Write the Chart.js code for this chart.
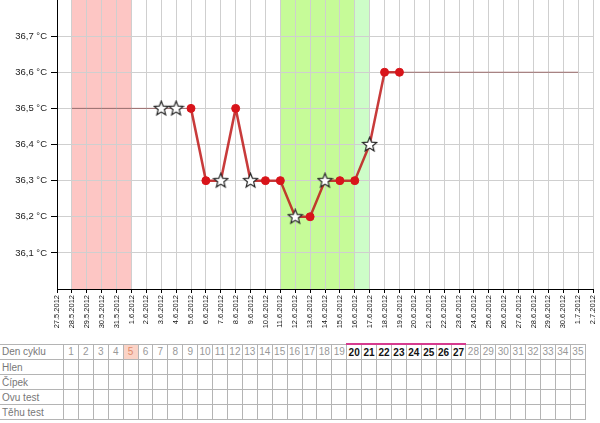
<!DOCTYPE html>
<html>
<head>
<meta charset="utf-8">
<script src="https://cdn.jsdelivr.net/npm/chart.js@4/dist/chart.umd.min.js"></script>
<style>
  html, body { margin: 0; padding: 0; background: #fff; }
  #obal { position: relative; width: 600px; height: 341px; }
  #tabulka {
    position: absolute; left: 0; top: 343px;
    border-collapse: collapse; table-layout: fixed; width: 586px;
    font-family: "Liberation Sans", Arial, sans-serif; font-size: 10px;
  }
  #tabulka td {
    height: 14px; padding: 0; border: 1px solid #b4b4b4;
    text-align: center; color: #999; overflow: hidden; white-space: nowrap;
  }
  #tabulka td.popis { text-align: left; padding-left: 2px; color: #777; border-left: none; }
  #tabulka td.tucne { color: #111; font-weight: bold; border-top: 2px solid #d63b8f; }
  #tabulka td.dnes { background: #fbd3c6; color: #e08a6a; }
</style>
</head>
<body>
<div id="obal"><canvas id="graf" width="600" height="341"></canvas></div>
<table id="tabulka"><tbody id="telo"></tbody></table>

<script>
// Data

var datumy = ['27.5.2012', '28.5.2012', '29.5.2012', '30.5.2012', '31.5.2012',
  '1.6.2012', '2.6.2012', '3.6.2012', '4.6.2012', '5.6.2012', '6.6.2012', '7.6.2012',
  '8.6.2012', '9.6.2012', '10.6.2012', '11.6.2012', '12.6.2012', '13.6.2012', '14.6.2012',
  '15.6.2012', '16.6.2012', '17.6.2012', '18.6.2012', '19.6.2012', '20.6.2012', '21.6.2012',
  '22.6.2012', '23.6.2012', '24.6.2012', '25.6.2012', '26.6.2012', '27.6.2012', '28.6.2012',
  '29.6.2012', '30.6.2012', '1.7.2012', '2.7.2012'];

// namerene teploty (null = nic)
var teploty = [null, null, null, null, null, null, null, 36.5, 36.5, 36.5, 36.3, 36.3,
  36.5, 36.3, 36.3, 36.3, 36.2, 36.2, 36.3, 36.3, 36.3, 36.4, 36.6, 36.6,
  null, null, null, null, null, null, null, null, null, null, null, null, null];

// tenka vodici cara
var vodiciCara = [null, 36.5, 36.5, 36.5, 36.5, 36.5, 36.5, 36.5, 36.5, 36.5, null, null,
  null, null, null, null, null, null, null, null, null, null, null, 36.6,
  36.6, 36.6, 36.6, 36.6, 36.6, 36.6, 36.6, 36.6, 36.6, 36.6, 36.6, 36.6, null];

// dny oznacene hvezdickou
var hvezdicky = ['3.6.2012', '4.6.2012', '7.6.2012', '9.6.2012', '12.6.2012', '14.6.2012', '17.6.2012'];

var prvniPlnyDen = '5.6.2012';

var menstruace = ['28.5.2012', '1.6.2012'];
var plodneDny = ['11.6.2012', '16.6.2012'];
var ovulace = ['16.6.2012', '17.6.2012'];

var teplotniOsa = [36.0, 36.8];

// Tabulka

var radky = ['Den cyklu', 'Hlen', 'Čípek', 'Ovu test', 'Těhu test'];
var dnyCyklu = [];
for (var d = 1; d <= 35; d++) dnyCyklu.push(d);
var dnesniDen = 5;
var tucneDny = [20, 21, 22, 23, 24, 25, 26, 27];

function vytvorTabulku() {
  var telo = document.getElementById('telo');
  telo.innerHTML = '';
  radky.forEach(function (popis, r) {
    var row = document.createElement('tr');
    var bunky = '<td class="popis">' + popis + '</td>';
    dnyCyklu.forEach(function (den) {
      if (r === 0) {
        var trida = '';
        if (den === dnesniDen) trida = 'dnes';
        if (tucneDny.indexOf(den) >= 0) trida = 'tucne';
        bunky += '<td class="' + trida + '">' + den + '</td>';
      } else {
        bunky += '<td></td>';
      }
    });
    row.innerHTML = bunky;
    telo.appendChild(row);
  });
  // sirka prvniho sloupce
  telo.rows[0].cells[0].style.width = '61px';
}

vytvorTabulku();

// Hvezdicka

function udelejHvezdu() {
  var c = document.createElement('canvas');
  c.width = 17; c.height = 17;
  var g = c.getContext('2d');
  g.beginPath();
  for (var i = 0; i < 10; i++) {
    var r = i % 2 === 0 ? 7.5 : 3.3;
    var a = -Math.PI / 2 + i * Math.PI / 5;
    var x = 8.5 + r * Math.cos(a);
    var y = 8.8 + r * Math.sin(a);
    if (i === 0) g.moveTo(x, y); else g.lineTo(x, y);
  }
  g.closePath();
  g.fillStyle = '#fff';
  g.fill();
  g.lineWidth = 1.2;
  g.strokeStyle = '#222';
  g.stroke();
  return c;
}

var hvezda = udelejHvezdu();

// Pasy v pozadi

var pasy = {
  id: 'pasy',
  beforeDraw: function (chart) {
    var ctx = chart.ctx;
    var x = chart.scales.x;
    var a = chart.chartArea;
    function pas(rozsah, barva) {
      var x1 = x.getPixelForValue(datumy.indexOf(rozsah[0]));
      var x2 = x.getPixelForValue(datumy.indexOf(rozsah[1]));
      ctx.fillStyle = barva;
      ctx.fillRect(x1, a.top, x2 - x1, a.bottom - a.top);
    }
    ctx.save();
    pas(menstruace, '#fdc6c4');
    pas(plodneDny, '#c6fb98');
    pas(ovulace, '#cdfdc8');
    ctx.restore();
  }
};

var prvniIndex = datumy.indexOf(prvniPlnyDen);

var config = {
  type: 'line',
  data: {
    labels: datumy,
    datasets: [{
      label: 'vodici',
      data: vodiciCara,
      borderColor: 'rgba(140, 80, 80, 0.8)',
      borderWidth: 1,
      pointRadius: 0,
      pointHoverRadius: 0,
      spanGaps: false,
      order: 2
    }, {
      label: 'teplota',
      data: teploty,
      borderColor: 'rgba(190, 25, 25, 0.85)',
      borderWidth: 2.5,
      borderJoinStyle: 'round',
      spanGaps: false,
      segment: {
        borderColor: function (ctx) {
          return ctx.p0DataIndex < prvniIndex ? 'rgba(0,0,0,0)' : undefined;
        }
      },
      pointStyle: function (ctx) {
        return hvezdicky.indexOf(datumy[ctx.dataIndex]) >= 0 ? hvezda : 'circle';
      },
      pointRadius: 4,
      pointBackgroundColor: '#d8141a',
      pointBorderColor: '#d8141a',
      pointBorderWidth: 1,
      order: 1
    }]
  },
  options: {
    responsive: false,
    animation: false,
    layout: { autoPadding: false, padding: { left: 0, right: 7, top: 0, bottom: 0 } },
    plugins: {
      legend: { display: false },
      tooltip: { enabled: false }
    },
    scales: {
      x: {
        offset: false,
        border: { color: '#000', width: 1 },
        grid: {
          color: '#cfcfcf',
          tickColor: '#000',
          tickLength: 4,
          drawTicks: true
        },
        ticks: {
          autoSkip: false,
          minRotation: 90,
          maxRotation: 90,
          padding: 2,
          color: '#111',
          font: { size: 7.5, family: 'Liberation Sans, Arial, sans-serif' }
        },
        afterFit: function (scale) {
          scale.height = 52;
          scale.paddingLeft = 0;
          scale.paddingRight = 0;
        }
      },
      y: {
        min: teplotniOsa[0],
        max: teplotniOsa[1],
        border: { color: '#000', width: 1 },
        grid: {
          color: function (ctx) {
            var v = ctx.tick ? ctx.tick.value : 0;
            return (v > teplotniOsa[1] - 0.001) ? 'rgba(0,0,0,0)' : '#cfcfcf';
          },
          tickColor: function (ctx) {
            var v = ctx.tick ? ctx.tick.value : 0;
            return (v > teplotniOsa[1] - 0.001 || v < teplotniOsa[0] + 0.001) ? 'rgba(0,0,0,0)' : '#000';
          },
          tickLength: 6
        },
        ticks: {
          stepSize: 0.1,
          padding: 4,
          color: '#222',
          font: { size: 9.5, family: 'Liberation Sans, Arial, sans-serif' },
          callback: function (value) {
            if (value < teplotniOsa[0] + 0.001 || value > teplotniOsa[1] - 0.001) return '';
            return value.toFixed(1).replace('.', ',') + ' °C';
          }
        },
        afterFit: function (scale) {
          scale.width = 57;
          scale.paddingTop = 0;
          scale.paddingBottom = 0;
        }
      }
    }
  },
  plugins: [pasy]
};

var ctxGraf = document.getElementById('graf').getContext('2d');
var mujGraf = new Chart(ctxGraf, config);
</script>
</body>
</html>
